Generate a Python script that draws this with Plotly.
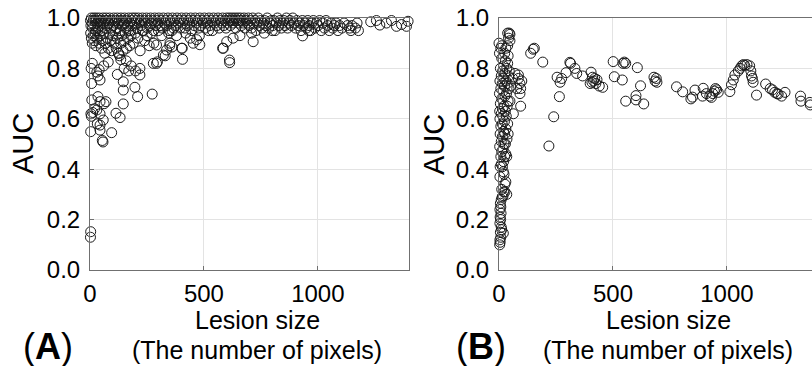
import plotly.graph_objects as go

# ---------------- Panel A data (lesion size, AUC) ----------------
a_band = [
    (2,.99),(4,.97),(6,1.0),(9,.98),(11,.96),(14,.99),(17,1.0),(19,.97),(22,.99),(25,.95),
    (28,1.0),(31,.98),(34,.96),(37,.99),(40,1.0),(44,.97),(47,.98),(50,.99),(53,.95),(57,1.0),
    (60,.98),(64,.96),(67,.99),(71,1.0),(74,.97),(78,.99),(82,.98),(86,1.0),(90,.96),(95,.99),
    (100,.97),(104,1.0),(108,.98),(112,.99),(116,.96),(120,1.0),(124,.98),(128,.99),(132,.95),(136,1.0),
    (140,.97),(144,.99),(148,.98),(152,1.0),(156,.96),(160,.99),(165,.97),(170,1.0),(174,.98),(178,.95),
    (182,.99),(186,1.0),(190,.97),(195,.98),(198,1.0),
    (203,.99),(207,.96),(212,1.0),(216,.98),(221,.99),(225,.97),(230,1.0),(234,.95),(239,.99),(243,.98),
    (248,1.0),(252,.96),(257,.99),(261,.97),(266,1.0),(270,.98),(275,.99),(279,.95),(284,1.0),(288,.97),
    (293,.99),(297,.98),
    (302,1.0),(307,.97),(312,.99),(317,.96),(322,1.0),(327,.98),(332,.99),(337,.97),(342,1.0),(347,.95),
    (352,.99),(357,.98),(362,1.0),(367,.96),(372,.99),(377,.97),(382,1.0),(387,.98),(392,.99),(397,.96),
    (402,1.0),(407,.98),(412,.99),(417,.96),(422,1.0),(427,.97),(432,.99),(437,.98),(442,1.0),(447,.95),
    (452,.99),(457,.97),(462,1.0),(467,.98),(472,.99),(477,.96),(482,1.0),(487,.97),(492,.99),(497,.98),
    (502,1.0),(507,.96),(512,.99),(517,.98),(522,1.0),(527,.97),(532,.99),(537,.95),(542,1.0),(547,.98),
    (552,.99),(557,.97),(562,1.0),(567,.96),(572,.99),(577,.98),(582,1.0),(587,.97),(592,.99),(597,.96),
    (600,1.0),(604,.98),(608,.99),(612,1.0),(616,.97),(620,.99),(624,1.0),(628,.98),(632,.99),(636,1.0),
    (640,.96),(644,.99),(648,1.0),(652,.98),(656,.99),(660,1.0),(664,.97),(668,.99),(672,.98),(676,1.0),
    (680,.96),(685,.99),(690,.98),(695,1.0),(699,.97),
    (704,.99),(709,.96),(714,1.0),(719,.98),(724,.99),(729,.95),(734,.98),(739,1.0),(744,.97),(749,.99),
    (755,.96),(760,.98),(766,.99),(772,.97),(778,1.0),(784,.96),(790,.98),(796,.99),
    (802,.97),(807,.99),(812,.95),(818,.98),(823,1.0),(829,.97),(834,.99),(840,.96),(845,.98),(851,.99),
    (856,.97),(862,1.0),(867,.96),(873,.98),(878,.99),(884,.97),(890,1.0),(895,.98),
    (902,.96),(908,.99),(914,.97),(920,.98),(926,.95),(932,.99),(938,.97),(944,.98),(950,.96),(956,.99),
    (962,.97),(968,.95),(974,.98),(980,.99),(987,.96),(994,.98),
    (1001,.97),(1008,.99),(1015,.95),(1022,.98),(1029,.96),(1036,.99),(1043,.97),(1050,.95),(1058,.98),
    (1065,.96),(1073,.97),(1080,.98),(1088,.95),(1095,.97),
    (1105,.96),(1115,.98),(1130,.97),(1140,.96),(1145,.95),(1150,.97),(1165,.96),(1172,.98),(1178,.95),
    (1232,.985),(1257,.99),(1272,.972),(1301,.98),(1323,.99),(1345,.967),(1367,.974),(1389,.967),
    (1396,.987),
]

a_mid = [
    (3,.94),(6,.92),(10,.90),(14,.93),(18,.91),(22,.94),(26,.89),(30,.92),(35,.95),(40,.90),
    (45,.93),(50,.88),(55,.91),(60,.94),(65,.86),(70,.90),(75,.92),(80,.88),(85,.94),(90,.91),
    (95,.87),(100,.93),(105,.90),(110,.95),(115,.88),(120,.92),(125,.86),(130,.94),(135,.90),(140,.93),
    (145,.87),(150,.91),(155,.94),(160,.88),(165,.92),(170,.95),(175,.89),(180,.93),(190,.90),(200,.94),
    (210,.92),(220,.87),(230,.95),(240,.91),(250,.93),(260,.89),(270,.94),(280,.90),(292,.893),(300,.95),
    (315,.93),(322,.853),(336,.873),(345,.94),(351,.90),(360,.95),(380,.93),(402,.88),(420,.94),(440,.92),
    (453,.90),(468,.914),(480,.93),(482,.894),(520,.95),(582,.88),(600,.906),(628,.92),(658,.93),(709,.94),
    (716,.906),(765,.94),(800,.95),(933,.929),(960,.95),
]

a_low = [
    (3,.152),(2,.13),(3,.549),(44,.555),(44,.575),(54,.514),(57,.508),(95,.545),(32,.58),(58,.595),
    (6,.61),(4,.62),(12,.625),(20,.64),(30,.635),(44,.62),(62,.66),(70,.668),(44,.668),(35,.688),
    (8,.675),(146,.659),(114,.622),(132,.605),(7,.74),(44,.754),(120,.776),(146,.747),(146,.714),(197,.725),
    (209,.688),(273,.698),(35,.77),(40,.795),(30,.785),(5,.80),(10,.82),(80,.825),(60,.81),(150,.80),
    (159,.83),(170,.79),(181,.81),(200,.79),(219,.774),(219,.80),(130,.85),(135,.835),(125,.86),(278,.82),
    (292,.82),(296,.826),(330,.85),(406,.836),(350,.89),(360,.885),(405,.88),(612,.833),(613,.823),(585,.88),
]

# ---------------- Panel B data (lesion size, AUC) ----------------
b_cluster = [
    (3,.10),(5,.11),(4,.12),(8,.13),(19,.146),(6,.15),(12,.16),(10,.17),(4,.185),(7,.20),
    (5,.21),(9,.225),(4,.24),(8,.25),(6,.265),(10,.28),(14,.29),(18,.295),(20,.31),(26,.31),
    (12,.32),(34,.30),(26,.34),(30,.35),(4,.37),(19,.39),(22,.38),(5,.41),(10,.42),(15,.41),
    (20,.43),(25,.45),(8,.45),(34,.45),(30,.46),(12,.47),(18,.48),(3,.49),(22,.50),(28,.50),
    (10,.51),(35,.52),(15,.53),(5,.54),(25,.54),(40,.54),(20,.55),(30,.56),(8,.57),(14,.58),
    (38,.58),(24,.59),(4,.60),(18,.61),(32,.61),(10,.62),(28,.63),(3,.63),(63,.62),(15,.64),
    (22,.65),(36,.65),(95,.65),(6,.66),(48,.67),(40,.67),(12,.68),(26,.69),(2,.70),(92,.70),
    (33,.70),(18,.71),(44,.72),(8,.72),(78,.72),(95,.72),(24,.73),(52,.73),(14,.74),(36,.74),
    (92,.74),(4,.75),(30,.75),(100,.75),(20,.76),(60,.76),(85,.76),(10,.77),(42,.77),(70,.78),
    (85,.774),(26,.78),(16,.79),(45,.79),(6,.80),(34,.80),(20,.81),(38,.82),(28,.83),(12,.84),
    (40,.85),(25,.86),(2,.86),(8,.88),(30,.88),(12,.89),(0,.90),(38,.89),(48,.91),(42,.92),
    (38,.94),(45,.94),(48,.935),
]

b_tail = [
    (139,.86),(150,.876),(155,.88),(192,.825),(219,.492),(240,.608),(265,.688),(255,.765),(268,.745),(275,.76),
    (294,.783),(311,.824),(314,.82),(333,.80),(341,.78),(367,.77),(400,.74),(404,.785),(408,.745),(411,.765),
    (415,.75),(420,.76),(425,.74),(430,.755),(440,.73),(455,.725),(501,.827),(506,.767),(541,.754),(544,.82),
    (550,.825),(556,.82),(556,.67),(601,.692),(601,.675),(607,.803),(621,.731),(635,.659),(680,.765),(685,.75),
    (690,.76),(693,.745),(779,.727),(806,.707),(842,.679),(849,.686),(860,.714),(893,.69),(896,.721),(910,.70),
    (925,.69),(932,.685),(938,.70),(945,.71),(950,.72),(955,.715),(962,.705),(1013,.708),(1020,.735),(1028,.754),
    (1035,.774),(1050,.79),(1058,.80),(1065,.81),(1072,.815),(1078,.812),(1088,.815),(1100,.81),(1105,.79),(1108,.77),
    (1112,.76),(1115,.745),(1130,.694),(1170,.738),(1190,.72),(1200,.715),(1210,.705),(1220,.70),(1225,.698),(1240,.69),
    (1255,.705),(1323,.69),(1325,.67),(1364,.665),(1366,.655),
]

x_ticks = [0, 500, 1000]
y_ticks = [0.0, 0.2, 0.4, 0.6, 0.8, 1.0]
x_title_1 = "Lesion size"
x_title_2 = "(The number of pixels)"
y_title = "AUC"
panel_labels = ["(<b>A</b>)", "(<b>B</b>)"]

# ---------------- figure ----------------
W, H = 812, 366
FONT = "Liberation Sans, Arial, Helvetica, sans-serif"

a_pts = a_band + a_mid + a_low
b_pts = b_cluster + b_tail

marker = dict(symbol="circle-open", size=10, color="#1a1a1a", line=dict(width=1, color="#1a1a1a"))

fig = go.Figure()
fig.add_trace(go.Scatter(x=[p[0] for p in a_pts], y=[p[1] for p in a_pts], mode="markers",
                         marker=marker, cliponaxis=False, xaxis="x", yaxis="y", showlegend=False))
fig.add_trace(go.Scatter(x=[p[0] for p in b_pts], y=[p[1] for p in b_pts], mode="markers",
                         marker=marker, cliponaxis=False, xaxis="x2", yaxis="y2", showlegend=False))

px = lambda v: v / W
py = lambda v: 1 - v / H

ax_common = dict(showgrid=True, gridcolor="#e3e3e3", gridwidth=1, zeroline=False,
                 showline=True, linecolor="#707070", linewidth=1, automargin=False,
                 ticks="inside", ticklen=4, tickcolor="#707070",
                 tickfont=dict(family=FONT, size=24, color="#000"))

fig.update_layout(
    template="none",
    width=W, height=H, margin=dict(l=0, r=0, t=0, b=0, pad=0),
    paper_bgcolor="white", plot_bgcolor="white",
    xaxis=dict(domain=[px(90), px(409)], range=[0, 1400], tickvals=x_ticks, mirror=True,
               anchor="y", ticklabelstandoff=2, **ax_common),
    yaxis=dict(domain=[py(270), py(18)], range=[0, 1], tickvals=y_ticks, tickformat=".1f",
               mirror=True, anchor="x", ticklabelstandoff=4, **ax_common),
    xaxis2=dict(domain=[px(499), 1], range=[0, (812 - 499) / 0.2279], tickvals=x_ticks, mirror=True,
                anchor="y2", ticklabelstandoff=2, **ax_common),
    yaxis2=dict(domain=[py(270), py(18)], range=[0, 1], tickvals=y_ticks, tickformat=".1f",
                mirror=False, anchor="x2", ticklabelstandoff=4, **ax_common),
)

ann = []
for cx, lab, lx in [(257, panel_labels[0], 48), (668, panel_labels[1], 481)]:
    ann.append(dict(x=px(cx), y=py(320), xref="paper", yref="paper", text=x_title_1, showarrow=False,
                    xanchor="center", yanchor="middle", font=dict(family=FONT, size=25, color="#000")))
    ann.append(dict(x=px(cx), y=py(350), xref="paper", yref="paper", text=x_title_2, showarrow=False,
                    xanchor="center", yanchor="middle", font=dict(family=FONT, size=25, color="#000")))
    ann.append(dict(x=px(lx), y=py(346), xref="paper", yref="paper", text=lab, showarrow=False,
                    xanchor="center", yanchor="middle", font=dict(family=FONT, size=36, color="#000")))
for ax_x in [23, 434]:
    ann.append(dict(x=px(ax_x), y=py(144), xref="paper", yref="paper", text=y_title, showarrow=False,
                    textangle=-90, xanchor="center", yanchor="middle",
                    font=dict(family=FONT, size=29, color="#000")))
fig.update_layout(annotations=ann)

fig.write_html("out.html", config={"displayModeBar": False},
               post_script="document.body.style.margin='0';document.body.style.overflow='hidden';")
